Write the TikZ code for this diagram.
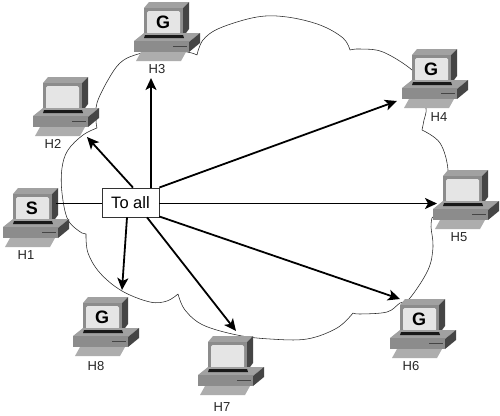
\documentclass[tikz,border=0pt]{standalone}
\usepackage{fontspec}
\setmainfont{Liberation Sans}
\usetikzlibrary{arrows.meta}
\definecolor{cA}{gray}{0.63}
\definecolor{cB}{gray}{0.55}
\definecolor{cC}{gray}{0.27}
\definecolor{cK}{gray}{0.68}
\definecolor{cS}{gray}{0.90}
\tikzset{
  x=1pt,y=-1pt,
  cloudline/.style={draw=black!85,line width=0.55pt},
  arrowline/.style={draw=black,line width=1.8pt,-{Stealth[length=12pt,width=11pt,inset=3pt]}},
  hostlabel/.style={font=\fontsize{13}{14}\selectfont,inner sep=0pt,text=black!85},
  toall/.style={draw=black!80,fill=white,line width=0.8pt,minimum width=57pt,minimum height=29pt,inner sep=0pt,font=\fontsize{16.5}{18}\selectfont},
  pics/host/.style={code={
    \fill[cA] (0,0) -- (5,-6) -- (45,-6) -- (39,0) -- cycle;
    \fill[cC] (39,0) -- (45,-6) -- (45,21) -- (39,29) -- cycle;
    \fill[cB] (0,0) rectangle (39,29);
    \fill[cS,rounded corners=1.5pt] (3,3) rectangle (36,26);
    \fill[cA] (-10,33) -- (0,25) -- (56,25) -- (45,34) -- cycle;
    \fill[black!90] (1,27) -- (39,27) -- (40,30) -- (0,30) -- cycle;
    \fill[cB] (-10,33) rectangle (45,44);
    \fill[cC] (45,34) -- (56,25) -- (56,35) -- (45,44) -- cycle;
    \fill[cC] (29,37.5) rectangle (43,38.7);
    \fill[cK] (-8,53) -- (-3,44) -- (42,44) -- (37,53) -- cycle;
    \node (-l) [font=\bfseries\fontsize{18}{18}\selectfont,inner sep=0pt] at (19,14.5) {#1};
  }}
}
\begin{document}
\begin{tikzpicture}
\useasboundingbox (0,0) rectangle (500,415);
\fill[white] (0,0) rectangle (500,415);
\draw[cloudline]
  plot[smooth,tension=0.6] coordinates {(82,233) (68,220) (62,193) (62,168) (68,150) (83,135) (97,128)}
  plot[smooth,tension=0.6] coordinates {(97,128) (96,120) (97,103) (108,80) (120,63) (135,55) (160,50) (187,52) (197,55)}
  plot[smooth,tension=0.6] coordinates {(197,55) (203,40) (220,28) (257,17) (287,17) (320,25) (343,38) (350,50)}
  plot[smooth,tension=0.6] coordinates {(350,50) (360,49) (383,52) (412,70) (420,85) (426,108) (424,120) (422,130)}
  plot[smooth,tension=0.6] coordinates {(422,130) (440,143) (448,170) (445,200) (432,218)}
  plot[smooth,tension=0.6] coordinates {(432,218) (431,227) (433,247) (428,270) (410,298) (400,303) (387,312) (360,314) (353,313)}
  plot[smooth,tension=0.6] coordinates {(353,313) (337,328) (307,339) (270,339) (237,335) (203,325) (185,310) (178,294)}
  plot[smooth,tension=0.6] coordinates {(178,294) (167,301) (150,302) (122,291) (100,273) (88,253) (86,234)}
  -- (82,233);
\pic (p1) at (13,194) {host={S}};
\pic (p2) at (43,83) {host={}};
\pic (p3) at (144,8) {host={G}};
\pic (p4) at (412,55) {host={G}};
\pic (p5) at (443,176) {host={}};
\pic (p6) at (400,305) {host={G}};
\pic (p7) at (208,342) {host={}};
\pic (p8) at (83,303) {host={G}};
\node[hostlabel] (h1) at (26,255) {H1};
\node[hostlabel] (h2) at (53,144) {H2};
\node[hostlabel] (h3) at (157,69) {H3};
\node[hostlabel] (h4) at (439,117) {H4};
\node[hostlabel] (h5) at (459,237) {H5};
\node[hostlabel] (h6) at (411,366) {H6};
\node[hostlabel] (h7) at (222,407) {H7};
\node[hostlabel] (h8) at (96,366) {H8};
\node[toall] (t) at (130.5,202.5) {To all};
\coordinate (s) at (56,203.5);
\coordinate (a2) at (87,137);
\coordinate (a3) at (151,78);
\coordinate (a4) at (397,101);
\coordinate (a5) at (437,203.5);
\coordinate (a6) at (400,299);
\coordinate (a7) at (236,331);
\coordinate (a8) at (122,290);
\draw[line width=1.8pt] (s) -- (t.west |- s);
\draw[arrowline] ([xshift=2.5pt]t.north) -- (a2);
\draw[arrowline] ([xshift=20.5pt]t.north) -- (a3);
\draw[arrowline] ([yshift=15pt]t.east) -- (a4);
\draw[arrowline] (t.east |- s) -- (a5);
\draw[arrowline] ([yshift=-14pt]t.east) -- (a6);
\draw[arrowline] ([xshift=16.5pt]t.south) -- (a7);
\draw[arrowline] ([xshift=-3.5pt]t.south) -- (a8);
\end{tikzpicture}
\end{document}
